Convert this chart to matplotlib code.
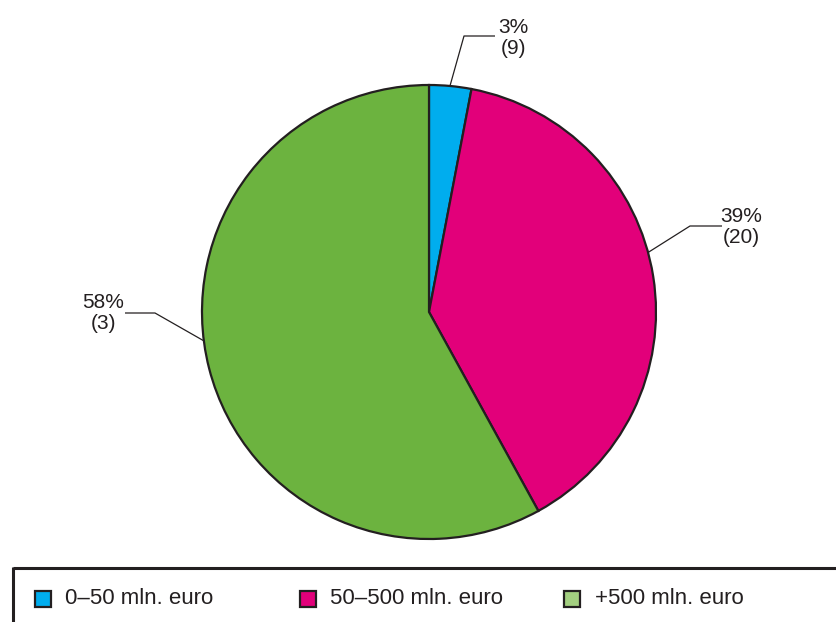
import numpy as np
import matplotlib
matplotlib.use("Agg")
import matplotlib.pyplot as plt
from matplotlib.patches import Rectangle

# data
categories = ["0\u201350 mln. euro", "50\u2013500 mln. euro", "+500 mln. euro"]
shares = [3, 39, 58]
counts = [9, 20, 3]
pie_colors = ["#00adee", "#e2007a", "#6cb33f"]
legend_colors = ["#00adee", "#e2007a", "#a3cf80"]
edge = "#231f20"

plt.rcParams["font.family"] = ["Liberation Sans", "DejaVu Sans"]

fig = plt.figure(figsize=(8.36, 6.22), dpi=100)
ax = fig.add_axes([0, 0, 1, 1])

# pie drawn in pixel-like coords (y down)
cx, cy, r = 429, 312, 227
ax.pie(shares, colors=pie_colors, startangle=-90, counterclock=True,
       center=(cx, cy), radius=r,
       wedgeprops=dict(edgecolor=edge, linewidth=1.6))
ax.set_xlim(0, 836)
ax.set_ylim(622, 0)
ax.set_aspect("equal")
ax.axis("off")

# leader lines: anchor angle (deg clockwise from top), elbow, line end, text pos
anchor_deg = [5.3, 74.8, 262.7]
elbows = [(464, 36), (690, 226), (155, 313)]
ends = [(495, 36), (722, 226), (125, 313)]
text_pos = [(513, 38), (741, 227), (103, 313)]

for i in range(len(shares)):
    a = np.deg2rad(anchor_deg[i])
    ax_, ay_ = cx + r * np.sin(a), cy - r * np.cos(a)
    ex, ey = elbows[i]
    lx, ly = ends[i]
    ax.plot([ax_, ex, lx], [ay_, ey, ly], color=edge, lw=0.9,
            solid_capstyle="butt")
    tx, ty = text_pos[i]
    ax.text(tx, ty, f"{shares[i]}%\n({counts[i]})", ha="center",
            va="center", fontsize=15, color="#231f20", linespacing=1.15)

# legend frame
ax.plot([13, 836], [568, 568], color=edge, lw=2.2, solid_capstyle="butt")
ax.plot([13, 13], [567, 622], color=edge, lw=2.2, solid_capstyle="butt")

sq_x = [35, 300, 564]
txt_x = [65, 330, 595]
for i, lab in enumerate(categories):
    ax.add_patch(Rectangle((sq_x[i], 591), 16, 16, facecolor=legend_colors[i],
                           edgecolor=edge, lw=1.6))
    ax.text(txt_x[i], 599, lab, ha="left", va="center", fontsize=16,
            color="#231f20")

fig.savefig("out.png", dpi=100)
